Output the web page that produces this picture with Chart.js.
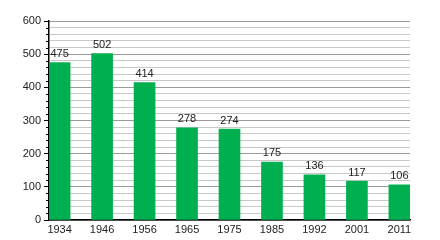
<!DOCTYPE html>
<html>
<head>
<meta charset="utf-8">
<script src="https://cdn.jsdelivr.net/npm/chart.js@4"></script>
<style>
  html, body { margin: 0; padding: 0; background: #fff; }
  canvas { display: block; }
</style>
</head>
<body>
<canvas id="chart" width="440" height="240"></canvas>
<script>
  // Data
  const years = ["1934", "1946", "1956", "1965", "1975", "1985", "1992", "2001", "2011"];
  const population = [475, 502, 414, 278, 274, 175, 136, 117, 106];
  const yMin = 0;
  const yMax = 600;
  const yMajorStep = 100;
  const yMinorStep = 20;

  Chart.defaults.font.family = '"Liberation Sans", Arial, sans-serif';
  Chart.defaults.font.size = 11;
  Chart.defaults.color = "#222";

  const isMajor = (v) => v % yMajorStep === 0;

  // Value labels above each bar + short minor ticks on the y axis
  const extras = {
    id: "extras",
    afterDatasetsDraw(chart) {
      const ctx = chart.ctx;
      const meta = chart.getDatasetMeta(0);
      ctx.save();
      ctx.font = '11px "Liberation Sans", Arial, sans-serif';
      ctx.fillStyle = "#222";
      ctx.textAlign = "center";
      ctx.textBaseline = "bottom";
      meta.data.forEach((bar, i) => {
        ctx.fillText(String(population[i]), bar.x, bar.y - 3);
      });

      const y = chart.scales.y;
      const x0 = chart.chartArea.left;
      ctx.strokeStyle = "#000";
      ctx.lineWidth = 1;
      ctx.beginPath();
      y.ticks.forEach((t) => {
        if (isMajor(t.value)) return;
        const py = Math.round(y.getPixelForValue(t.value)) + 0.5;
        ctx.moveTo(x0 - 3, py);
        ctx.lineTo(x0, py);
      });
      ctx.stroke();
      ctx.restore();
    }
  };

  new Chart(document.getElementById("chart"), {
    type: "bar",
    data: {
      labels: years,
      datasets: [{
        data: population,
        backgroundColor: "#00b050",
        borderWidth: 0,
        barThickness: 21
      }]
    },
    options: {
      responsive: false,
      animation: false,
      layout: { padding: { top: 21, right: 30, left: 0, bottom: 0 } },
      plugins: { legend: { display: false }, tooltip: { enabled: false } },
      scales: {
        x: {
          offset: false,
          grid: { display: false, drawTicks: false },
          border: { color: "#000", width: 1.5 },
          ticks: { padding: 3, maxRotation: 0, autoSkip: false },
          // first bar sits against the y axis, last one against the right edge
          afterBuildTicks(s) {
            s._startValue = -0.25;
            s._valueRange = years.length - 0.5;
          },
          afterFit(s) { s.height = 20; }
        },
        y: {
          min: yMin,
          max: yMax,
          grid: {
            color: (c) => (c.tick && isMajor(c.tick.value)) ? "#9a9a9a" : "#c8c8c8",
            tickColor: (c) => (c.tick && isMajor(c.tick.value)) ? "#000" : "rgba(0,0,0,0)",
            tickLength: 5
          },
          border: { color: "#000", width: 1.5 },
          ticks: {
            stepSize: yMinorStep,
            padding: 3,
            autoSkip: false,
            callback: (v) => (isMajor(v) ? v : "")
          },
          afterFit(s) { s.width = 49; }
        }
      }
    },
    plugins: [extras]
  });
</script>
</body>
</html>
